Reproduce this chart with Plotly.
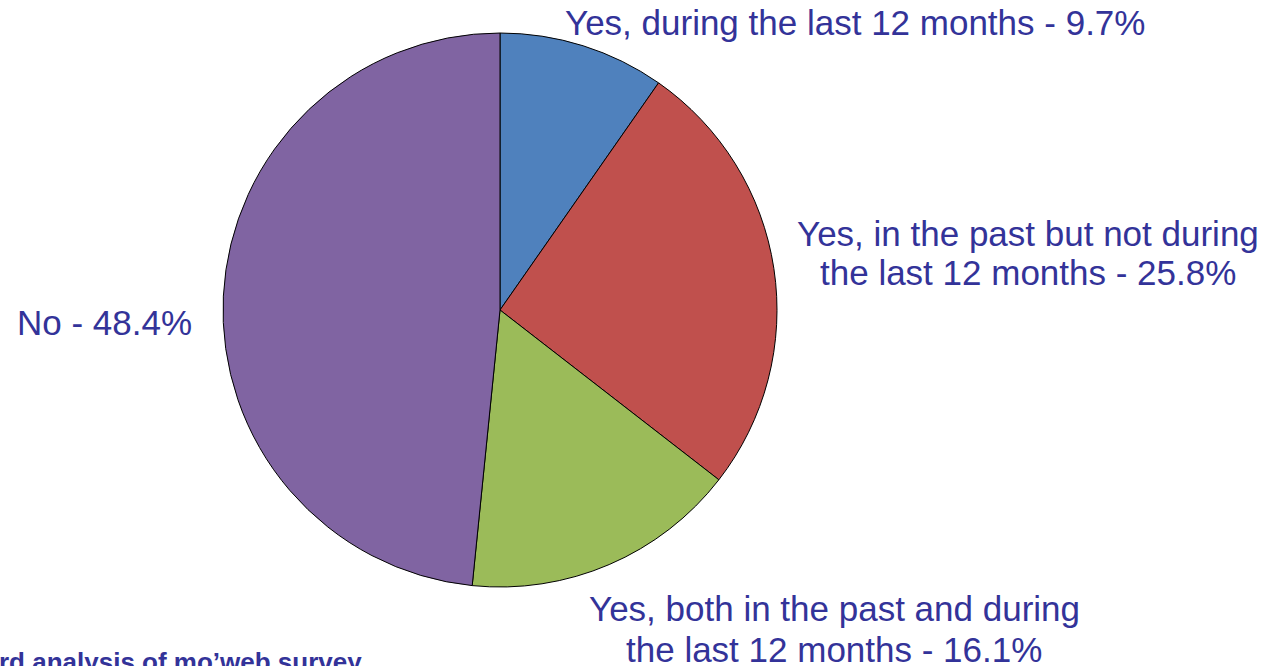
import plotly.graph_objects as go

# Survey answers and their shares (%)
categories = [
    "Yes, during the last 12 months",
    "Yes, in the past but not during<br>the last 12 months",
    "Yes, both in the past and during<br>the last 12 months",
    "No",
]
shares = [9.7, 25.8, 16.1, 48.4]
colors = ["#4F81BD", "#C0504D", "#9BBB59", "#8064A2"]

W, H = 1268, 666
text_color = "#333399"
font_family = "Liberation Sans, Arial, sans-serif"

# pie placement in pixels
cx, cy, r = 500, 310, 277

fig = go.Figure(
    go.Pie(
        labels=[c.replace("<br>", " ") for c in categories],
        values=shares,
        sort=False,
        direction="clockwise",
        rotation=0,
        marker=dict(colors=colors, line=dict(color="#000000", width=1)),
        textinfo="none",
        hoverinfo="label+percent",
        showlegend=False,
        domain=dict(
            x=[(cx - r) / W, (cx + r) / W],
            y=[(H - cy - r) / H, (H - cy + r) / H],
        ),
    )
)

# outside label positions: centre x and the centre y of each text line (pixels)
label_x = [855, 1028, 834, 104]
label_line_y = [[22], [234, 272], [608, 649], [322]]

for name, val, px, ys in zip(categories, shares, label_x, label_line_y):
    lines = f"{name} - {val}%".split("<br>")
    for line, py in zip(lines, ys):
        fig.add_annotation(
            x=px / W,
            y=1 - py / H,
            xref="paper",
            yref="paper",
            text=line,
            showarrow=False,
            xanchor="center",
            yanchor="middle",
            align="center",
            font=dict(family=font_family, size=35, color=text_color),
        )

fig.add_annotation(
    x=-3 / W,
    y=1 - 662 / H,
    xref="paper",
    yref="paper",
    text="<b>rd analysis of mo’web survey</b>",
    showarrow=False,
    xanchor="left",
    yanchor="middle",
    font=dict(family=font_family, size=26, color=text_color),
)

fig.update_layout(
    width=W,
    height=H,
    margin=dict(l=0, r=0, t=0, b=0),
    paper_bgcolor="#FFFFFF",
    plot_bgcolor="#FFFFFF",
)

fig.write_html("out.html")
